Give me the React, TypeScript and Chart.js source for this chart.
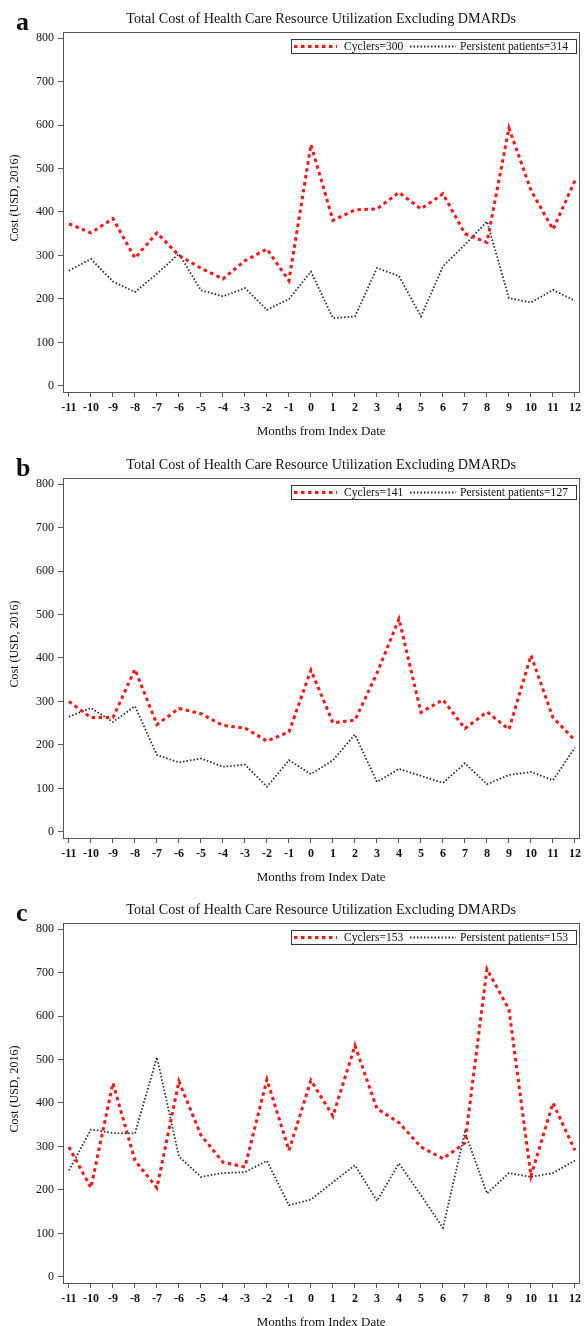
import React, { useEffect, useRef } from 'react';
import { Chart, registerables } from 'chart.js';

Chart.register(...registerables);

const months = [-11, -10, -9, -8, -7, -6, -5, -4, -3, -2, -1, 0, 1, 2, 3, 4, 5, 6, 7, 8, 9, 10, 11, 12];
const yTicks = [0, 100, 200, 300, 400, 500, 600, 700, 800];

const chartTitle = 'Total Cost of Health Care Resource Utilization Excluding DMARDs';
const xTitle = 'Months from Index Date';
const yTitle = 'Cost (USD, 2016)';
const panelLetters = ['a', 'b', 'c'];
const cyclerLabels = ['Cyclers=300', 'Cyclers=141', 'Cyclers=153'];
const persistentLabels = ['Persistent patients=314', 'Persistent patients=127', 'Persistent patients=153'];

const cyclersA = [373, 352, 385, 294, 352, 300, 271, 246, 288, 315, 242, 555, 381, 405, 407, 445, 407, 442, 350, 330, 593, 450, 360, 472];
const persistentA = [265, 292, 240, 216, 258, 304, 220, 206, 225, 175, 200, 263, 156, 160, 271, 253, 160, 275, 325, 378, 202, 192, 221, 196];

const cyclersB = [300, 263, 263, 374, 247, 284, 272, 245, 239, 209, 230, 372, 251, 257, 365, 490, 275, 304, 238, 276, 236, 406, 263, 211];
const persistentB = [265, 285, 253, 289, 177, 160, 169, 150, 155, 104, 165, 133, 165, 224, 115, 145, 129, 113, 158, 110, 131, 138, 119, 194];

const cyclersC = [299, 205, 446, 268, 205, 450, 326, 264, 253, 454, 291, 452, 370, 532, 387, 355, 299, 272, 308, 708, 615, 232, 400, 291];
const persistentC = [245, 339, 331, 330, 505, 277, 230, 239, 241, 267, 165, 178, 218, 257, 175, 261, 188, 113, 333, 192, 239, 230, 239, 268];

const cyclersSeries = [cyclersA, cyclersB, cyclersC];
const persistentSeries = [persistentA, persistentB, persistentC];

const FONT = "'Liberation Serif', 'DejaVu Serif', serif";
const W = 585;
const H = 446;
const panelTops = [0, 446, 891];

const RED = '#ff1414';
const DARK = '#2a2a2a';

function makeDecor(idx: number) {
  return {
    id: 'decor' + idx,
    afterDraw(chart: any) {
      const ctx = chart.ctx;
      const a = chart.chartArea;
      ctx.save();
      // frame
      ctx.strokeStyle = '#555';
      ctx.lineWidth = 1;
      ctx.setLineDash([]);
      ctx.strokeRect(Math.round(a.left) + 0.5, Math.round(a.top) + 0.5, Math.round(a.right - a.left), Math.round(a.bottom - a.top));
      // title
      ctx.fillStyle = '#111';
      ctx.font = `14.2px ${FONT}`;
      ctx.textAlign = 'center';
      ctx.textBaseline = 'middle';
      ctx.fillText(chartTitle, (a.left + a.right) / 2, 19);
      // panel letter
      ctx.font = `bold 26px ${FONT}`;
      ctx.textAlign = 'left';
      ctx.textBaseline = 'alphabetic';
      ctx.fillText(panelLetters[idx], 16, 30);
      // x title
      ctx.font = `13px ${FONT}`;
      ctx.textAlign = 'center';
      ctx.textBaseline = 'middle';
      ctx.fillText(xTitle, (a.left + a.right) / 2, 432);
      // y title
      ctx.save();
      ctx.font = `12px ${FONT}`;
      ctx.translate(15, 198);
      ctx.rotate(-Math.PI / 2);
      ctx.fillText(yTitle, 0, 0);
      ctx.restore();
      // legend
      const lx = 291.5, ly = 39.5, lw = 285, lh = 14;
      ctx.fillStyle = '#fff';
      ctx.fillRect(lx, ly, lw, lh);
      ctx.strokeStyle = '#333';
      ctx.lineWidth = 1;
      ctx.strokeRect(lx, ly, lw, lh);
      const cy = ly + lh / 2;
      ctx.strokeStyle = RED;
      ctx.lineWidth = 3;
      ctx.setLineDash([3.5, 3.5]);
      ctx.beginPath();
      ctx.moveTo(294, cy);
      ctx.lineTo(337, cy);
      ctx.stroke();
      ctx.strokeStyle = DARK;
      ctx.lineWidth = 1.8;
      ctx.setLineDash([1.5, 2]);
      ctx.beginPath();
      ctx.moveTo(410, cy);
      ctx.lineTo(456, cy);
      ctx.stroke();
      ctx.setLineDash([]);
      ctx.fillStyle = '#111';
      ctx.font = `11.6px ${FONT}`;
      ctx.textAlign = 'left';
      ctx.textBaseline = 'middle';
      ctx.fillText(cyclerLabels[idx], 344, cy + 0.5);
      ctx.fillText(persistentLabels[idx], 460, cy + 0.5);
      ctx.restore();
    },
  };
}

function Panel({ idx }: { idx: number }) {
  const ref = useRef<HTMLCanvasElement | null>(null);
  useEffect(() => {
    if (!ref.current) return;
    const chart = new Chart(ref.current, {
      type: 'line',
      data: {
        datasets: [
          {
            label: cyclerLabels[idx],
            data: months.map((m, i) => ({ x: m, y: cyclersSeries[idx][i] })),
            borderColor: RED,
            borderWidth: 3,
            borderDash: [3.5, 3.5],
            pointRadius: 0,
            tension: 0,
            fill: false,
          },
          {
            label: persistentLabels[idx],
            data: months.map((m, i) => ({ x: m, y: persistentSeries[idx][i] })),
            borderColor: DARK,
            borderWidth: 1.8,
            borderDash: [1.5, 2],
            pointRadius: 0,
            tension: 0,
            fill: false,
          },
        ],
      },
      options: {
        responsive: false,
        animation: false,
        devicePixelRatio: 1,
        layout: { padding: { top: 32, right: 4, left: 0, bottom: 0 } },
        plugins: { legend: { display: false }, tooltip: { enabled: false }, title: { display: false } },
        scales: {
          x: {
            type: 'linear',
            min: -11.27,
            max: 12.2,
            afterBuildTicks: (s: any) => {
              s.ticks = months.map((v) => ({ value: v }));
            },
            afterFit: (s: any) => {
              s.height = H - 392;
            },
            grid: { drawOnChartArea: false, drawTicks: true, tickLength: 5, color: '#555' },
            border: { display: false },
            ticks: {
              autoSkip: false,
              maxRotation: 0,
              padding: 4,
              color: '#111',
              font: { family: FONT, size: 12, weight: 'bold' },
              callback: (v: any) => String(v),
            },
          },
          y: {
            type: 'linear',
            min: -13.8,
            max: 813.8,
            afterBuildTicks: (s: any) => {
              s.ticks = yTicks.map((v) => ({ value: v }));
            },
            afterFit: (s: any) => {
              s.width = 63;
            },
            grid: { drawOnChartArea: false, drawTicks: true, tickLength: 5, color: '#555' },
            border: { display: false },
            ticks: {
              padding: 4,
              color: '#111',
              font: { family: FONT, size: 12 },
              callback: (v: any) => String(v),
            },
          },
        },
      },
      plugins: [makeDecor(idx)],
    } as any);
    return () => chart.destroy();
  }, [idx]);
  return (
    <canvas
      ref={ref}
      width={W}
      height={H}
      style={{ position: 'absolute', left: 0, top: panelTops[idx], width: W, height: H, display: 'block' }}
    />
  );
}

export default function App() {
  return (
    <div
      style={{
        position: 'absolute',
        left: 0,
        top: 0,
        width: W,
        height: 1326,
        overflow: 'hidden',
        background: '#fff',
      }}
    >
      <Panel idx={0} />
      <Panel idx={1} />
      <Panel idx={2} />
    </div>
  );
}
